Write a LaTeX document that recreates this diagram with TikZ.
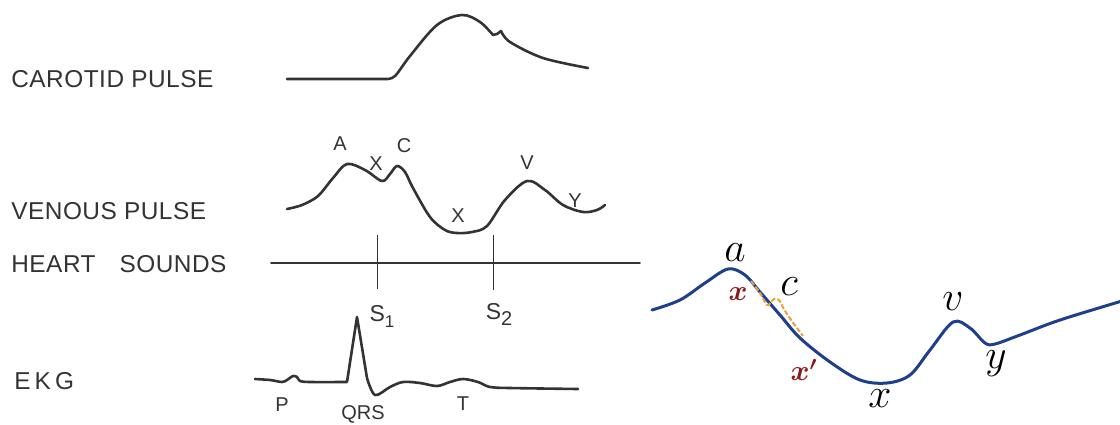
\documentclass[tikz,border=0pt]{standalone}
\usepackage{fontspec}
\setsansfont{Liberation Sans}
\definecolor{ink}{HTML}{333333}
\definecolor{vblue}{HTML}{1E3F8C}
\definecolor{vred}{HTML}{8B1A1A}
\definecolor{vorange}{HTML}{E8A040}
\begin{document}
\begin{tikzpicture}[x=0.5pt,y=-0.5pt,
  lbl/.style={font=\sffamily\fontsize{12.2}{12.2}\selectfont\addfontfeatures{LetterSpace=2}, text=ink, anchor=west, inner sep=0pt},
  wlbl/.style={font=\sffamily\fontsize{10}{10}\selectfont, text=ink, inner sep=0pt},
  trace/.style={draw=ink, line width=1.3pt, line join=round, line cap=round},
  tick/.style={draw=ink, line width=0.5pt},
  rlbl/.style={font=\huge, inner sep=0pt},
  redlbl/.style={font=\Large\boldmath, text=vred, inner sep=0pt}]
\useasboundingbox (0,0) rectangle (1120,424);
% labels
\node[lbl] (lcar) at (11,79) {CAROTID PULSE};
\node[lbl] (lven) at (11,211) {VENOUS PULSE};
\node[lbl] (lhs) at (11,264) {HEART\hspace{12pt}SOUNDS};
\node[lbl] (lekg) at (14,381) {E\,K\,G};
% carotid
\draw[trace] (287,79) -- (386,79)
  plot[smooth, tension=0.55] coordinates {(386,79)(395,76)(410,56)(437,25)(462,15)(480,22)(493,35)}
  -- (497,34) -- (501,31)
  plot[smooth, tension=0.55] coordinates {(501,31)(510,42)(543,58)(588,68)};
% venous
\draw[trace] plot[smooth, tension=0.55] coordinates {(287,209)(302,205)(318,196)(333,178)(347,164)(365,170)(382,181)(390,174)(397,166)(405,172)(413,188)(430,217)(445,230)(457,233)(472,232)(487,226)(505,200)(527,181)(545,190)(563,205)(583,212)(597,210)(605,205)};
\node[wlbl] (vA) at (340,144) {A};
\node[wlbl] (vX1) at (376,164) {X};
\node[wlbl] (vC) at (404,146) {C};
\node[wlbl] (vX2) at (458,216) {X};
\node[wlbl] (vV) at (527,163) {V};
\node[wlbl] (vY) at (575,201) {Y};
% heart sounds
\coordinate (hsA) at (271,263);
\coordinate (hsB) at (640,263);
\draw[trace, line width=0.8pt] (hsA) -- (hsB);
\coordinate (t1a) at (377,235); \coordinate (t1b) at (377,289);
\coordinate (t2a) at (493,235); \coordinate (t2b) at (493,290);
\draw[tick] (t1a) -- (t1b);
\draw[tick] (t2a) -- (t2b);
\node[wlbl, font=\sffamily\fontsize{11.5}{11.5}\selectfont] (s1) at (382,316) {S\raisebox{-3pt}{\fontsize{8.5}{8.5}\selectfont 1}};
\node[wlbl, font=\sffamily\fontsize{11.5}{11.5}\selectfont] (s2) at (499,314) {S\raisebox{-3pt}{\fontsize{10}{10}\selectfont 2}};
% EKG
\draw[trace] plot[smooth, tension=0.5] coordinates {(255,379)(270,380)(282,382)(287,380)(293,376)(297,377)(300,381)(310,382)(347,382)}
  -- (357,317) -- (367,378)
  plot[smooth, tension=0.55] coordinates {(367,378)(375,395)(390,387)(403,382)(420,383)(437,386)(450,382)(463,379)(478,382)(490,387)(510,388)(578,389)};
\node[wlbl] (eP) at (282,405) {P};
\node[wlbl] (eQRS) at (363,414) {QRS};
\node[wlbl] (eT) at (463,404) {T};
% right panel
\draw[draw=vblue, line width=1.5pt, line cap=round] plot[smooth, tension=0.55] coordinates {(652,310)(680,300)(705,283)(728,269)(745,275)(760,292)(780,315)(800,338)(830,362)(860,380)(887,383)(910,375)(930,350)(953,322)(970,328)(985,343)(995,344)(1020,335)(1060,320)(1122,301)};
\draw[draw=vorange, line width=1pt, dashed, dash pattern=on 2.5pt off 1pt] plot[smooth, tension=0.5] coordinates {(751,281)(760,293)(767,305)(771,302)(774,299)(779,300)(785,311)(794,324)(803,336)};
\node[rlbl] (ra) at (735,253) {$a$};
\node[rlbl] (rc) at (789,287) {$c$};
\node[rlbl] (rv) at (953,302) {$v$};
\node[rlbl] (ry) at (996,364) {$y$};
\node[rlbl] (rx) at (880,399) {$x$};
\node[redlbl] (rx1) at (738,294) {$x$};
\node[redlbl] (rx2) at (804,370) {$x'$};
\end{tikzpicture}
\end{document}
